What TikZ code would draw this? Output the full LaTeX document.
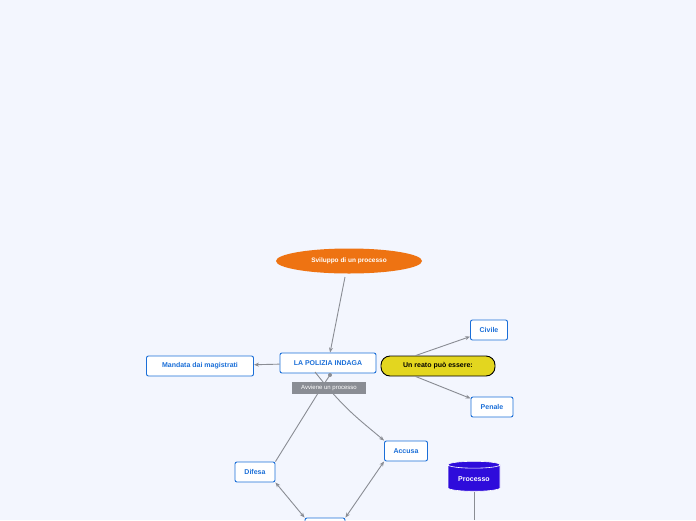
\documentclass[tikz,border=0pt]{standalone}
\usepackage{fontspec}
\setmainfont{Liberation Sans}
\usetikzlibrary{shapes.geometric,arrows.meta}
\definecolor{bgc}{HTML}{F3F6FE}
\definecolor{topic}{HTML}{1B6FD8}
\definecolor{link}{HTML}{8A8D94}
\definecolor{orangec}{HTML}{EE7312}
\definecolor{yellowc}{HTML}{E3D61F}
\definecolor{purplec}{HTML}{2E0CDB}
\tikzset{
  box/.style={draw=topic, fill=white, rounded corners=2pt, line width=0.9pt,
    font=\fontsize{7}{8}\selectfont\bfseries, text=topic, minimum height=20pt, inner xsep=6pt},
  conn/.style={draw=link, line width=0.9pt, -{Stealth[length=5pt,width=4pt]}},
}
\begin{document}
\begin{tikzpicture}[x=1pt,y=-1pt]
  \fill[bgc] (0,0) rectangle (696,520);
  \clip (0,0) rectangle (696,520);

  % main topics
  \node[ellipse, fill=orangec, minimum width=146pt, minimum height=25pt, text=white,
    font=\fontsize{6.5}{8}\selectfont\bfseries] (sviluppo) at (349,261) {Sviluppo di un processo};
  \node[box, minimum width=96pt] (polizia) at (328,363) {LA POLIZIA INDAGA};
  \node[box, minimum width=107pt] (mandata) at (200,366) {Mandata dai magistrati};
  \node[box, draw=black, fill=yellowc, text=black, rounded corners=9pt, minimum width=114pt] (reato) at (438,366) {Un reato può essere:};
  \node[box, minimum width=37pt] (civile) at (489,330) {Civile};
  \node[box, minimum width=42pt] (penale) at (492,407) {Penale};
  \node[box, minimum width=40pt] (difesa) at (255,472) {Difesa};
  \node[box, minimum width=43pt] (accusa) at (406,451) {Accusa};
  \node[box, minimum width=40pt] (giudice) at (325,528) {};
  \node[cylinder, shape border rotate=90, aspect=0.18, fill=purplec, draw=white, line width=0.6pt,
    minimum width=52pt, minimum height=30pt, text=white, font=\fontsize{7}{8}\selectfont\bfseries] (processo) at (474,479) {Processo};

  % links
  \coordinate (polbot) at (330,375);
  \draw[conn] (345,277) -- (polizia);
  \draw[conn] (polizia) -- (mandata);
  \draw[conn] (reato.155) -- (civile);
  \draw[conn] (reato.205) -- (penale);
  \draw[conn] (315,372) .. controls (345,410) and (360,420) .. (accusa.north west);
  \draw[link, line width=0.9pt] (difesa.north east) -- (320,390) -- (polbot);
  \fill[link] (polbot) circle (2pt);
  \draw[conn, {Stealth[length=5pt,width=4pt]}-{Stealth[length=5pt,width=4pt]}] (difesa.south east) -- (giudice.north west);
  \draw[conn, {Stealth[length=5pt,width=4pt]}-{Stealth[length=5pt,width=4pt]}] (accusa.south west) -- (giudice.north east);
  \draw[link, line width=0.9pt] (processo.bottom) -- (474,520);

  \node[fill=link, text=white, font=\fontsize{6}{7}\selectfont, minimum width=74pt, minimum height=12pt, inner sep=1pt] (avviene) at (329,388) {Avviene un processo};
\end{tikzpicture}
\end{document}
